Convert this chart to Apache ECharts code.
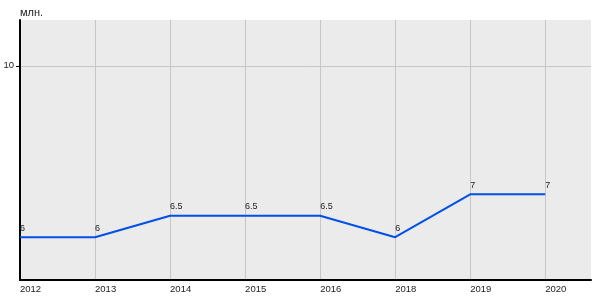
<!DOCTYPE html>
<html><head><meta charset="utf-8">
<script src="https://cdn.jsdelivr.net/npm/echarts@6/dist/echarts.min.js"></script>
<style>html,body{margin:0;padding:0;background:#fff}#c{width:600px;height:300px}</style>
</head><body><div id="c"></div>
<script>
const years = ['2012','2013','2014','2015','2016','2018','2019','2020'];
const values = [6, 6, 6.5, 6.5, 6.5, 6, 7, 7];
const yTicks = [10];
const unitLabel = 'млн.';

const idx = years.map((_, i) => i);
const chart = echarts.init(document.getElementById('c'), null, {renderer: 'canvas'});
chart.setOption({
  animation: false,
  grid: {left: 20, right: 9, top: 20, bottom: 20, show: true, backgroundColor: '#ebebeb', borderWidth: 0},
  xAxis: {
    type: 'value', min: 0, max: 7.61,
    axisLine: {show: true, onZero: false, lineStyle: {color: '#000', width: 2}},
    axisTick: {show: false, customValues: idx},
    axisLabel: {customValues: idx, formatter: v => years[Math.round(v)] || '', align: 'left', color: '#222', fontSize: 9.5, fontFamily: 'Arial, Liberation Sans', margin: 4},
    splitLine: {show: true, lineStyle: {color: '#c6c6c6', width: 1}}
  },
  yAxis: {
    type: 'value', min: 5, max: 11.07,
    name: unitLabel, nameLocation: 'end', nameGap: 7,
    nameTextStyle: {align: 'left', verticalAlign: 'middle', color: '#222', fontSize: 11, fontFamily: 'Arial, Liberation Sans'},
    axisLine: {show: true, lineStyle: {color: '#000', width: 2}},
    axisTick: {show: true, length: 4, customValues: yTicks, lineStyle: {color: '#000'}},
    axisLabel: {customValues: yTicks, color: '#222', fontSize: 9.5, fontFamily: 'Arial, Liberation Sans', margin: 6},
    splitLine: {show: true, lineStyle: {color: '#c6c6c6', width: 1}}
  },
  series: [{
    type: 'line',
    data: values.map((v, i) => [i, v]),
    showSymbol: true, symbol: 'circle', symbolSize: 1,
    itemStyle: {color: 'rgba(0,0,0,0)'},
    lineStyle: {color: '#0050e6', width: 2},
    label: {show: true, position: 'top', align: 'left', distance: 4, color: '#222', fontSize: 9, fontFamily: 'Arial, Liberation Sans'},
  }]
});
</script></body></html>
